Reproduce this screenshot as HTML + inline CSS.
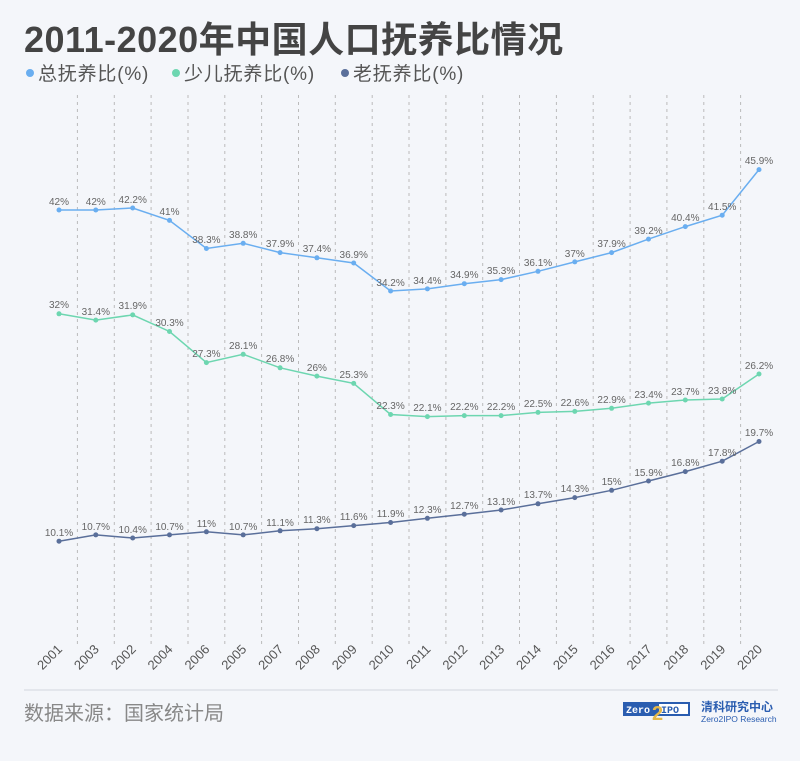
<!DOCTYPE html>
<html><head><meta charset="utf-8"><style>
body{margin:0;background:#f4f6fa;}
svg{display:block;font-family:"Liberation Sans","Noto Sans CJK SC",sans-serif;}
</style></head><body>
<svg width="800" height="761" viewBox="0 0 800 761">
<rect width="800" height="761" fill="#f4f6fa"/>
<text x="24" y="52" font-size="36" font-weight="bold" fill="#444" letter-spacing="0.5">2011-2020年中国人口抚养比情况</text>
<g font-size="19" fill="#555" letter-spacing="0.8">
<circle cx="30" cy="73" r="4" fill="#6aaef0"/><text x="38" y="80">总抚养比(%)</text>
<circle cx="176" cy="73" r="4" fill="#6dd6b0"/><text x="184" y="80">少儿抚养比(%)</text>
<circle cx="345" cy="73" r="4" fill="#5a6f9a"/><text x="353" y="80">老抚养比(%)</text>
</g>
<g stroke="#bbb" stroke-dasharray="3,4" stroke-width="1">
<line x1="77.4" y1="95" x2="77.4" y2="645"/><line x1="114.3" y1="95" x2="114.3" y2="645"/><line x1="151.1" y1="95" x2="151.1" y2="645"/><line x1="188" y1="95" x2="188" y2="645"/><line x1="224.8" y1="95" x2="224.8" y2="645"/><line x1="261.6" y1="95" x2="261.6" y2="645"/><line x1="298.5" y1="95" x2="298.5" y2="645"/><line x1="335.3" y1="95" x2="335.3" y2="645"/><line x1="372.2" y1="95" x2="372.2" y2="645"/><line x1="409" y1="95" x2="409" y2="645"/><line x1="445.9" y1="95" x2="445.9" y2="645"/><line x1="482.7" y1="95" x2="482.7" y2="645"/><line x1="519.5" y1="95" x2="519.5" y2="645"/><line x1="556.4" y1="95" x2="556.4" y2="645"/><line x1="593.2" y1="95" x2="593.2" y2="645"/><line x1="630.1" y1="95" x2="630.1" y2="645"/><line x1="666.9" y1="95" x2="666.9" y2="645"/><line x1="703.8" y1="95" x2="703.8" y2="645"/><line x1="740.6" y1="95" x2="740.6" y2="645"/>
</g>
<polyline fill="none" stroke="#6aaef0" stroke-width="1.5" points="59,210 95.8,210 132.7,208 169.5,220.4 206.4,248.5 243.2,243.3 280.1,252.6 316.9,257.8 353.7,263 390.6,291 427.4,288.9 464.3,283.7 501.1,279.6 538,271.3 574.8,261.9 611.6,252.6 648.5,239.1 685.3,226.6 722.2,215.2 759,169.6"/>
<polyline fill="none" stroke="#6dd6b0" stroke-width="1.5" points="59,313.8 95.8,320.1 132.7,314.9 169.5,331.5 206.4,362.6 243.2,354.3 280.1,367.8 316.9,376.1 353.7,383.4 390.6,414.5 427.4,416.6 464.3,415.6 501.1,415.6 538,412.4 574.8,411.4 611.6,408.3 648.5,403.1 685.3,400 722.2,399 759,374"/>
<polyline fill="none" stroke="#5a6f9a" stroke-width="1.5" points="59,541.2 95.8,534.9 132.7,538 169.5,534.9 206.4,531.8 243.2,534.9 280.1,530.8 316.9,528.7 353.7,525.6 390.6,522.5 427.4,518.3 464.3,514.2 501.1,510 538,503.8 574.8,497.6 611.6,490.3 648.5,481 685.3,471.6 722.2,461.2 759,441.5"/>
<g fill="#6aaef0"><circle cx="59" cy="210" r="2.5"/><circle cx="95.8" cy="210" r="2.5"/><circle cx="132.7" cy="208" r="2.5"/><circle cx="169.5" cy="220.4" r="2.5"/><circle cx="206.4" cy="248.5" r="2.5"/><circle cx="243.2" cy="243.3" r="2.5"/><circle cx="280.1" cy="252.6" r="2.5"/><circle cx="316.9" cy="257.8" r="2.5"/><circle cx="353.7" cy="263" r="2.5"/><circle cx="390.6" cy="291" r="2.5"/><circle cx="427.4" cy="288.9" r="2.5"/><circle cx="464.3" cy="283.7" r="2.5"/><circle cx="501.1" cy="279.6" r="2.5"/><circle cx="538" cy="271.3" r="2.5"/><circle cx="574.8" cy="261.9" r="2.5"/><circle cx="611.6" cy="252.6" r="2.5"/><circle cx="648.5" cy="239.1" r="2.5"/><circle cx="685.3" cy="226.6" r="2.5"/><circle cx="722.2" cy="215.2" r="2.5"/><circle cx="759" cy="169.6" r="2.5"/></g>
<g fill="#6dd6b0"><circle cx="59" cy="313.8" r="2.5"/><circle cx="95.8" cy="320.1" r="2.5"/><circle cx="132.7" cy="314.9" r="2.5"/><circle cx="169.5" cy="331.5" r="2.5"/><circle cx="206.4" cy="362.6" r="2.5"/><circle cx="243.2" cy="354.3" r="2.5"/><circle cx="280.1" cy="367.8" r="2.5"/><circle cx="316.9" cy="376.1" r="2.5"/><circle cx="353.7" cy="383.4" r="2.5"/><circle cx="390.6" cy="414.5" r="2.5"/><circle cx="427.4" cy="416.6" r="2.5"/><circle cx="464.3" cy="415.6" r="2.5"/><circle cx="501.1" cy="415.6" r="2.5"/><circle cx="538" cy="412.4" r="2.5"/><circle cx="574.8" cy="411.4" r="2.5"/><circle cx="611.6" cy="408.3" r="2.5"/><circle cx="648.5" cy="403.1" r="2.5"/><circle cx="685.3" cy="400" r="2.5"/><circle cx="722.2" cy="399" r="2.5"/><circle cx="759" cy="374" r="2.5"/></g>
<g fill="#5a6f9a"><circle cx="59" cy="541.2" r="2.5"/><circle cx="95.8" cy="534.9" r="2.5"/><circle cx="132.7" cy="538" r="2.5"/><circle cx="169.5" cy="534.9" r="2.5"/><circle cx="206.4" cy="531.8" r="2.5"/><circle cx="243.2" cy="534.9" r="2.5"/><circle cx="280.1" cy="530.8" r="2.5"/><circle cx="316.9" cy="528.7" r="2.5"/><circle cx="353.7" cy="525.6" r="2.5"/><circle cx="390.6" cy="522.5" r="2.5"/><circle cx="427.4" cy="518.3" r="2.5"/><circle cx="464.3" cy="514.2" r="2.5"/><circle cx="501.1" cy="510" r="2.5"/><circle cx="538" cy="503.8" r="2.5"/><circle cx="574.8" cy="497.6" r="2.5"/><circle cx="611.6" cy="490.3" r="2.5"/><circle cx="648.5" cy="481" r="2.5"/><circle cx="685.3" cy="471.6" r="2.5"/><circle cx="722.2" cy="461.2" r="2.5"/><circle cx="759" cy="441.5" r="2.5"/></g>
<g font-size="10" fill="#666" text-anchor="middle">
<text x="59" y="205">42%</text><text x="95.8" y="205">42%</text><text x="132.7" y="203">42.2%</text><text x="169.5" y="215">41%</text><text x="206.4" y="243">38.3%</text><text x="243.2" y="238">38.8%</text><text x="280.1" y="247">37.9%</text><text x="316.9" y="252">37.4%</text><text x="353.7" y="258">36.9%</text><text x="390.6" y="286">34.2%</text><text x="427.4" y="284">34.4%</text><text x="464.3" y="278">34.9%</text><text x="501.1" y="274">35.3%</text><text x="538" y="266">36.1%</text><text x="574.8" y="257">37%</text><text x="611.6" y="247">37.9%</text><text x="648.5" y="234">39.2%</text><text x="685.3" y="221">40.4%</text><text x="722.2" y="210">41.5%</text><text x="759" y="164">45.9%</text>
<text x="59" y="308">32%</text><text x="95.8" y="315">31.4%</text><text x="132.7" y="309">31.9%</text><text x="169.5" y="326">30.3%</text><text x="206.4" y="357">27.3%</text><text x="243.2" y="349">28.1%</text><text x="280.1" y="362">26.8%</text><text x="316.9" y="371">26%</text><text x="353.7" y="378">25.3%</text><text x="390.6" y="409">22.3%</text><text x="427.4" y="411">22.1%</text><text x="464.3" y="410">22.2%</text><text x="501.1" y="410">22.2%</text><text x="538" y="407">22.5%</text><text x="574.8" y="406">22.6%</text><text x="611.6" y="403">22.9%</text><text x="648.5" y="398">23.4%</text><text x="685.3" y="395">23.7%</text><text x="722.2" y="394">23.8%</text><text x="759" y="369">26.2%</text>
<text x="59" y="536">10.1%</text><text x="95.8" y="530">10.7%</text><text x="132.7" y="533">10.4%</text><text x="169.5" y="530">10.7%</text><text x="206.4" y="527">11%</text><text x="243.2" y="530">10.7%</text><text x="280.1" y="526">11.1%</text><text x="316.9" y="523">11.3%</text><text x="353.7" y="520">11.6%</text><text x="390.6" y="517">11.9%</text><text x="427.4" y="513">12.3%</text><text x="464.3" y="509">12.7%</text><text x="501.1" y="505">13.1%</text><text x="538" y="498">13.7%</text><text x="574.8" y="492">14.3%</text><text x="611.6" y="485">15%</text><text x="648.5" y="476">15.9%</text><text x="685.3" y="466">16.8%</text><text x="722.2" y="456">17.8%</text><text x="759" y="436">19.7%</text>
</g>
<g font-size="13" fill="#555" text-anchor="end">
<text transform="translate(63,650) rotate(-45)">2001</text><text transform="translate(99.8,650) rotate(-45)">2003</text><text transform="translate(136.7,650) rotate(-45)">2002</text><text transform="translate(173.5,650) rotate(-45)">2004</text><text transform="translate(210.4,650) rotate(-45)">2006</text><text transform="translate(247.2,650) rotate(-45)">2005</text><text transform="translate(284.1,650) rotate(-45)">2007</text><text transform="translate(320.9,650) rotate(-45)">2008</text><text transform="translate(357.7,650) rotate(-45)">2009</text><text transform="translate(394.6,650) rotate(-45)">2010</text><text transform="translate(431.4,650) rotate(-45)">2011</text><text transform="translate(468.3,650) rotate(-45)">2012</text><text transform="translate(505.1,650) rotate(-45)">2013</text><text transform="translate(542,650) rotate(-45)">2014</text><text transform="translate(578.8,650) rotate(-45)">2015</text><text transform="translate(615.6,650) rotate(-45)">2016</text><text transform="translate(652.5,650) rotate(-45)">2017</text><text transform="translate(689.3,650) rotate(-45)">2018</text><text transform="translate(726.2,650) rotate(-45)">2019</text><text transform="translate(763,650) rotate(-45)">2020</text>
</g>
<line x1="24" y1="690" x2="778" y2="690" stroke="#dde1e8" stroke-width="1.5"/>
<text x="24" y="720" font-size="20" fill="#888">数据来源：国家统计局</text>
<rect x="623" y="702" width="67" height="14" fill="#2a5db0"/>
<rect x="659" y="704" width="29" height="10" fill="#fff"/>
<text x="626" y="713" font-size="10" font-weight="bold" fill="#fff" font-family="Liberation Mono,monospace">Zero</text>
<text x="661" y="713" font-size="10" font-weight="bold" fill="#2a5db0" font-family="Liberation Mono,monospace">IPO</text>
<text x="652" y="720" font-size="20" font-weight="bold" fill="#e5b84a">2</text>
<text x="701" y="711" font-size="12" font-weight="bold" fill="#2a5db0">清科研究中心</text>
<text x="701" y="722" font-size="8.5" fill="#2a5db0">Zero2IPO Research</text>
</svg>
</body></html>
